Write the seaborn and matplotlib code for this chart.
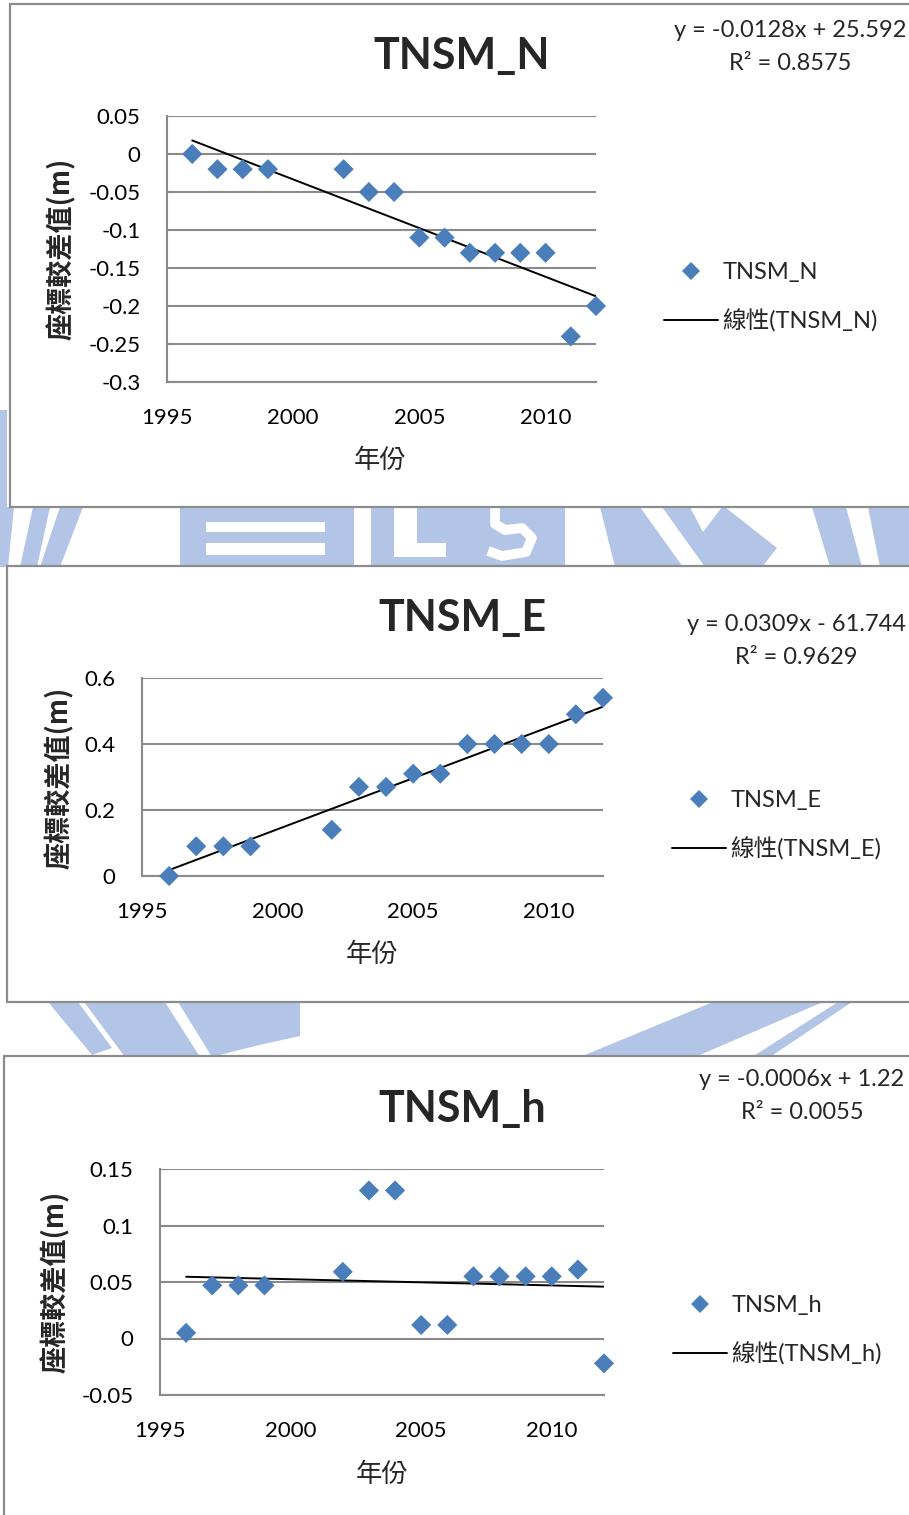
import numpy as np
import pandas as pd
import matplotlib
matplotlib.use("Agg")
import matplotlib.pyplot as plt
import seaborn as sns
from matplotlib.patches import Rectangle, Polygon
from matplotlib.lines import Line2D

# ---- data -------------------------------------------------------------
years = [1996, 1997, 1998, 1999, 2002, 2003, 2004, 2005, 2006,
         2007, 2008, 2009, 2010, 2011, 2012]
tnsm_n = [0.0, -0.02, -0.02, -0.02, -0.02, -0.05, -0.05, -0.11, -0.11,
          -0.13, -0.13, -0.13, -0.13, -0.24, -0.20]
tnsm_e = [0.0, 0.09, 0.09, 0.09, 0.14, 0.27, 0.27, 0.31, 0.31,
          0.40, 0.40, 0.40, 0.40, 0.49, 0.54]
tnsm_h = [0.005, 0.047, 0.047, 0.047, 0.059, 0.131, 0.131, 0.012, 0.012,
          0.055, 0.055, 0.055, 0.055, 0.061, -0.022]

series_names = ["TNSM_N", "TNSM_E", "TNSM_h"]
equations = ["y = -0.0128x + 25.592", "y = 0.0309x - 61.744", "y = -0.0006x + 1.22"]
r_squared = ["R² = 0.8575", "R² = 0.9629", "R² = 0.0055"]

x_ticks = [1995, 2000, 2005, 2010]
y_ticks_n = [-0.3, -0.25, -0.2, -0.15, -0.1, -0.05, 0.0, 0.05]
y_labels_n = ["-0.3", "-0.25", "-0.2", "-0.15", "-0.1", "-0.05", "0", "0.05"]
y_ticks_e = [0.0, 0.2, 0.4, 0.6]
y_labels_e = ["0", "0.2", "0.4", "0.6"]
y_ticks_h = [-0.05, 0.0, 0.05, 0.1, 0.15]
y_labels_h = ["-0.05", "0", "0.05", "0.1", "0.15"]

x_title = "年份"
y_title = "座標較差值(m)"

# ---- style ------------------------------------------------------------
sns.set_style("white")
plt.rcParams["font.family"] = ["Lato", "Noto Sans CJK TC", "DejaVu Sans"]
plt.rcParams["axes.unicode_minus"] = False

W, H = 909, 1515
BLUE = "#4a7ebb"
GRID = "#8a8a8a"
FRAME = "#8c8c8c"
WM = "#b3c5e7"


def fx(x):
    return x / W


def fy(y):
    return 1 - y / H


fig = plt.figure(figsize=(W / 100, H / 100), dpi=100)

# ---- page background: faint logo pieces and the chart frames ----------
bg = fig.add_axes([0, 0, 1, 1], zorder=0)
bg.set_xlim(0, W)
bg.set_ylim(H, 0)
bg.axis("off")

wm_blue = [
    [(0, 507), (14, 507), (8, 567), (0, 567)],
    [(33, 507), (50, 507), (37, 567), (20, 567)],
    [(60, 507), (83, 507), (60, 567), (40, 567)],
    [(180, 507), (354, 507), (354, 567), (180, 567)],
    [(371, 507), (565, 507), (565, 567), (371, 567)],
    [(600, 507), (725, 507), (777, 548), (762, 567), (615, 567)],
    [(812, 507), (846, 507), (862, 567), (830, 567)],
    [(868, 507), (909, 507), (909, 567), (880, 567)],
    [(48, 1002), (78, 1002), (112, 1048), (92, 1055)],
    [(84, 1002), (165, 1002), (200, 1057), (125, 1057)],
    [(178, 1002), (300, 1002), (300, 1036), (255, 1046), (212, 1057)],
    [(713, 1002), (823, 1002), (695, 1057), (580, 1057)],
    [(838, 1002), (852, 1002), (770, 1057), (752, 1057)],
    [(0, 410), (7, 410), (7, 507), (0, 507)],
]
wm_white = [
    [(206, 522), (325, 522), (325, 532), (206, 532)],
    [(206, 543), (325, 543), (325, 555), (206, 555)],
    [(394, 507), (417, 507), (417, 557), (394, 557)],
    [(417, 543), (446, 543), (446, 557), (417, 557)],
    [(640, 507), (662, 507), (705, 567), (683, 567)],
    [(690, 507), (722, 507), (703, 532)],
]
for pts in wm_blue:
    bg.add_patch(Polygon(pts, closed=True, fc=WM, ec="none"))
for pts in wm_white:
    bg.add_patch(Polygon(pts, closed=True, fc="white", ec="none"))
bg.plot([495, 495, 505, 522, 532, 526, 502, 488],
        [507, 524, 530, 528, 538, 552, 556, 551],
        color="white", lw=7, solid_capstyle="butt")

# frames: (left, top, right, bottom) in pixels
frames = [(10, 4, 940, 507), (7, 566, 940, 1002), (4, 1056, 940, 1540)]
for (l, t, r, b) in frames:
    bg.add_patch(Rectangle((l, t), r - l, b - t, fc="white", ec=FRAME, lw=1.6, zorder=3))

# ---- chart panels ------------------------------------------------------
panels = [
    dict(vals=tnsm_n, yt=y_ticks_n, yl=y_labels_n, ax=(167, 116, 596, 382),
         title_base=69, eq_x=790, eq_base=(37, 70), leg=(664, 297),
         ylab=(61, 249), xlab=(380, 460)),
    dict(vals=tnsm_e, yt=y_ticks_e, yl=y_labels_e, ax=(142, 678, 603, 876),
         title_base=631, eq_x=796, eq_base=(631, 664), leg=(672, 825),
         ylab=(59, 778), xlab=(372, 954)),
    dict(vals=tnsm_h, yt=y_ticks_h, yl=y_labels_h, ax=(160, 1169, 604, 1395),
         title_base=1122, eq_x=802, eq_base=(1086, 1119), leg=(673, 1330),
         ylab=(55, 1282), xlab=(382, 1474)),
]

for name, eq, r2, p in zip(series_names, equations, r_squared, panels):
    L, T, R, B = p["ax"]
    ax = fig.add_axes([fx(L), fy(B), (R - L) / W, (B - T) / H], zorder=2)
    ax.patch.set_alpha(0)
    df = pd.DataFrame({"year": years, "value": p["vals"]})

    sns.regplot(data=df, x="year", y="value", ax=ax, scatter=False, ci=None,
                color="black", line_kws=dict(lw=1.4, zorder=2))
    sns.scatterplot(data=df, x="year", y="value", ax=ax, marker="D", s=105,
                    color=BLUE, edgecolor="none", linewidth=0, zorder=3,
                    clip_on=False, legend=False)

    ax.set_xlim(1995, 2012)
    ax.set_ylim(p["yt"][0], p["yt"][-1])
    ax.set_xticks(x_ticks)
    ax.set_xticklabels([str(v) for v in x_ticks])
    ax.set_yticks(p["yt"])
    ax.set_yticklabels(p["yl"])
    ax.set_xlabel("")
    ax.set_ylabel("")
    ax.tick_params(axis="both", length=0, labelsize=16, colors="black")
    ax.tick_params(axis="y", pad=19)
    ax.tick_params(axis="x", pad=19)
    ax.set_axisbelow(True)
    ax.yaxis.grid(True, color=GRID, lw=1.5)
    ax.xaxis.grid(False)
    for side in ("top", "right"):
        ax.spines[side].set_visible(False)
    for side in ("left", "bottom"):
        ax.spines[side].set_color(GRID)
        ax.spines[side].set_linewidth(1.5)

    # chart title
    fig.text(fx(462), fy(p["title_base"]), name, ha="center", va="baseline",
             fontsize=31, fontweight="bold")
    # trendline equation
    fig.text(fx(p["eq_x"]), fy(p["eq_base"][0]), eq, ha="center", va="baseline",
             fontsize=17)
    fig.text(fx(p["eq_x"]), fy(p["eq_base"][1]), r2, ha="center", va="baseline",
             fontsize=17)
    # axis titles
    fig.text(fx(p["xlab"][0]), fy(p["xlab"][1]), x_title, ha="center", va="center",
             fontsize=19, family=["Noto Sans CJK TC"], fontweight="medium")
    fig.text(fx(p["ylab"][0]), fy(p["ylab"][1]), y_title, ha="center", va="center",
             rotation=90, fontsize=19.5, family=["Noto Sans CJK TC"], fontweight="bold")

    # legend
    handles = [
        Line2D([], [], marker="D", ls="none", color=BLUE, markersize=9.5, mew=0),
        Line2D([], [], color="black", lw=1.4),
    ]
    fig.legend(handles, [name, f"線性({name})"], loc="center left",
               bbox_to_anchor=(fx(p["leg"][0]), fy(p["leg"][1])),
               frameon=False, fontsize=17, handlelength=2.3, handletextpad=0.17,
               labelspacing=1.1, borderpad=0, borderaxespad=0)

fig.savefig("out.png", dpi=100)
